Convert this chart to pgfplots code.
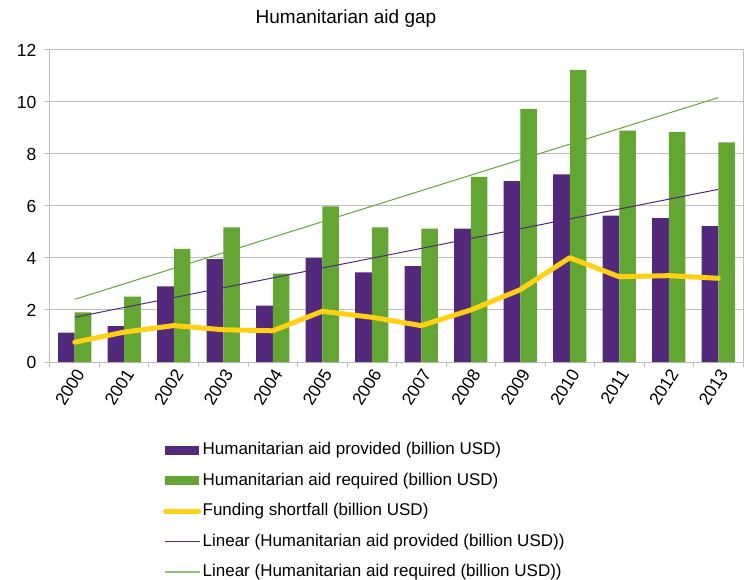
\documentclass[border=0pt]{standalone}
\usepackage{pgfplots}
\pgfplotsset{compat=1.18}
\usepackage{fontspec}
\setmainfont{Liberation Sans}
\definecolor{aidpurple}{RGB}{83,41,123}
\definecolor{aidgreen}{RGB}{99,166,52}
\definecolor{aidyellow}{RGB}{255,208,20}
\definecolor{gridgray}{RGB}{190,190,190}

\begin{document}
\begin{tikzpicture}
\path[use as bounding box] (-50pt,-218pt) rectangle (697pt,362pt);
\begin{axis}[
    at={(0pt,0pt)}, anchor=south west,
    scale only axis,
    width=693pt, height=312pt,
    xmin=-0.5, xmax=13.5,
    ymin=0, ymax=12,
    ytick={0,2,...,12},
    xtick={0,...,13},
    xticklabels={2000,2001,2002,2003,2004,2005,2006,2007,2008,2009,2010,2011,2012,2013},
    minor xtick={-0.5,0.5,...,13.5},
    major x tick style={draw=none},
    tick align=outside,
    major tick length=6pt,
    minor tick length=5pt,
    tick style={gridgray, line width=1pt},
    xtick pos=bottom, ytick pos=left,
    ymajorgrids,
    grid style={gridgray, line width=1pt},
    axis line style={gridgray, line width=1pt},
    /pgf/number format/assume math mode=true,
    tick label style={font=\fontsize{17.5}{20}\selectfont},
    y tick label style={xshift=-4pt},
    x tick label style={rotate=58, anchor=east, xshift=4pt, yshift=-6pt},
    legend cell align=left,
    legend style={at={(0.163,-0.256)}, anchor=north west, draw=none, fill=none,
        inner sep=0pt, row sep=14.5pt,
        font=\fontsize{17}{20}\selectfont,
        nodes={inner xsep=1.5pt, inner ysep=0pt, text height=12.5pt, text depth=3.5pt}},
]
\addplot[ybar, bar width=16.7pt, bar shift=-8.35pt, fill=aidpurple, draw=none,
    legend image code/.code={\fill[aidpurple] (0pt,-4.5pt) rectangle (34pt,4.5pt);}]
coordinates {(0,1.13) (1,1.38) (2,2.91) (3,3.96) (4,2.17) (5,4.00) (6,3.45)
             (7,3.69) (8,5.13) (9,6.96) (10,7.22) (11,5.63) (12,5.53) (13,5.23)};
\addlegendentry{Humanitarian aid provided (billion USD)}
\addplot[ybar, bar width=16.7pt, bar shift=8.35pt, fill=aidgreen, draw=none,
    legend image code/.code={\fill[aidgreen] (0pt,-4.5pt) rectangle (34pt,4.5pt);}]
coordinates {(0,1.91) (1,2.51) (2,4.35) (3,5.18) (4,3.40) (5,5.99) (6,5.18)
             (7,5.13) (8,7.12) (9,9.74) (10,11.23) (11,8.90) (12,8.85) (13,8.45)};
\addlegendentry{Humanitarian aid required (billion USD)}
\addplot[sharp plot, aidyellow, line width=5pt, line join=round, line cap=round,
    legend image code/.code={\draw[aidyellow, line width=5pt, line cap=round] (1pt,0pt) -- (34pt,0pt);}]
coordinates {(0,0.76) (1,1.15) (2,1.40) (3,1.24) (4,1.20) (5,1.95) (6,1.72)
             (7,1.40) (8,2.00) (9,2.78) (10,4.01) (11,3.28) (12,3.32) (13,3.22)};
\addlegendentry{Funding shortfall (billion USD)}
\addplot[sharp plot, aidpurple, line width=1pt,
    legend image code/.code={\draw[aidpurple, line width=1pt] (0pt,0pt) -- (35pt,0pt);}]
coordinates {(0,1.72) (13,6.64)};
\addlegendentry{Linear (Humanitarian aid provided (billion USD))}
\addplot[sharp plot, aidgreen, line width=1pt,
    legend image code/.code={\draw[aidgreen!70, line width=1.2pt] (0pt,0pt) -- (35pt,0pt);}]
coordinates {(0,2.41) (13,10.17)};
\addlegendentry{Linear (Humanitarian aid required (billion USD))}
\end{axis}
\node[font=\fontsize{19}{22}\selectfont] at (296pt,343pt) {Humanitarian aid gap};
\end{tikzpicture}
\end{document}
